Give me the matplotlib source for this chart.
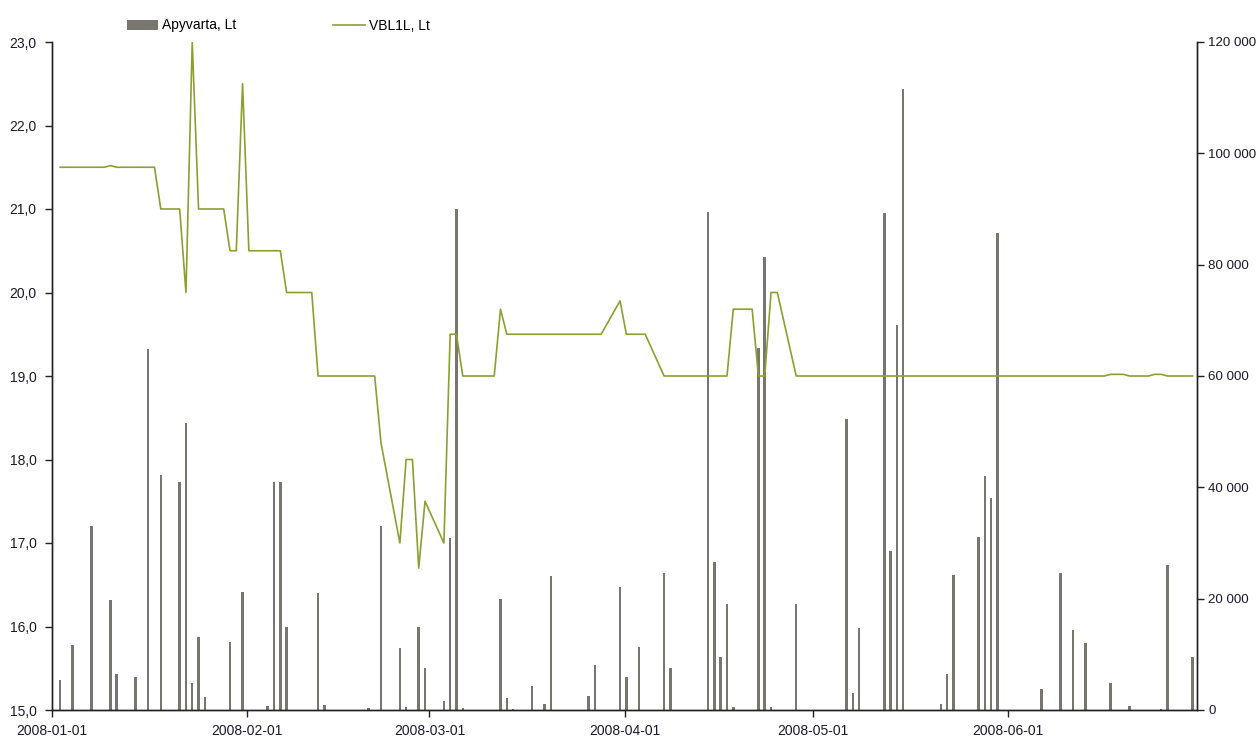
import matplotlib
matplotlib.use('Agg')
import matplotlib.pyplot as plt
import matplotlib.dates as mdates
from matplotlib.ticker import FuncFormatter, MultipleLocator
import pandas as pd

plt.rcParams['font.family'] = ['Liberation Sans', 'DejaVu Sans']
plt.rcParams['font.size'] = 10

# Apyvarta (turnover, Lt) per trading day
vol_dates = ['2008-01-02', '2008-01-04', '2008-01-07', '2008-01-10', '2008-01-11',
             '2008-01-14', '2008-01-16', '2008-01-18', '2008-01-21', '2008-01-22',
             '2008-01-23', '2008-01-24', '2008-01-25', '2008-01-29', '2008-01-31',
             '2008-02-04', '2008-02-05', '2008-02-06', '2008-02-07', '2008-02-12',
             '2008-02-13', '2008-02-20', '2008-02-22', '2008-02-25', '2008-02-26',
             '2008-02-28', '2008-02-29', '2008-03-03', '2008-03-04', '2008-03-05',
             '2008-03-06', '2008-03-12', '2008-03-13', '2008-03-14', '2008-03-17',
             '2008-03-19', '2008-03-20', '2008-03-26', '2008-03-27', '2008-03-31',
             '2008-04-01', '2008-04-03', '2008-04-07', '2008-04-08', '2008-04-14',
             '2008-04-15', '2008-04-16', '2008-04-17', '2008-04-18', '2008-04-22',
             '2008-04-23', '2008-04-24', '2008-04-28', '2008-05-06', '2008-05-07',
             '2008-05-08', '2008-05-12', '2008-05-13', '2008-05-14', '2008-05-15',
             '2008-05-21', '2008-05-22', '2008-05-23', '2008-05-27', '2008-05-28',
             '2008-05-29', '2008-05-30', '2008-06-06', '2008-06-09', '2008-06-11',
             '2008-06-13', '2008-06-17', '2008-06-20', '2008-06-25', '2008-06-26',
             '2008-06-30']
vol_values = [5400, 11700, 33100, 19800, 6500,
              5900, 64900, 42200, 41000, 51600,
              4900, 13100, 2300, 12200, 21200,
              700, 41000, 41000, 14900, 21000,
              900, 400, 33000, 11100, 500,
              14900, 7500, 1600, 30900, 90000,
              400, 19900, 2100, 200, 4400,
              1000, 24000, 2600, 8100, 22100,
              5900, 11400, 24700, 7500, 89400,
              26500, 9600, 19100, 500, 65000,
              81300, 500, 19100, 52300, 3000,
              14700, 89200, 28600, 69200, 111500,
              1000, 6500, 24200, 31000, 42100,
              38000, 85700, 3700, 24700, 14300,
              12100, 4900, 700, 200, 26100,
              9600]

# VBL1L closing price, Lt
px_dates = ['2008-01-02', '2008-01-09', '2008-01-10', '2008-01-11', '2008-01-17',
            '2008-01-18', '2008-01-21', '2008-01-22', '2008-01-23', '2008-01-24',
            '2008-01-28', '2008-01-29', '2008-01-30', '2008-01-31', '2008-02-01',
            '2008-02-06', '2008-02-07', '2008-02-11', '2008-02-12', '2008-02-21',
            '2008-02-22', '2008-02-25', '2008-02-26', '2008-02-27', '2008-02-28',
            '2008-02-29', '2008-03-03', '2008-03-04', '2008-03-05', '2008-03-06',
            '2008-03-11', '2008-03-12', '2008-03-13', '2008-03-28', '2008-03-31',
            '2008-04-01', '2008-04-04', '2008-04-07', '2008-04-17', '2008-04-18',
            '2008-04-21', '2008-04-22', '2008-04-23', '2008-04-24', '2008-04-25',
            '2008-04-28', '2008-06-16', '2008-06-17', '2008-06-19', '2008-06-20',
            '2008-06-23', '2008-06-24', '2008-06-25', '2008-06-26', '2008-06-30']
px_values = [21.5, 21.5, 21.52, 21.5, 21.5,
             21.0, 21.0, 20.0, 23.0, 21.0,
             21.0, 20.5, 20.5, 22.5, 20.5,
             20.5, 20.0, 20.0, 19.0, 19.0,
             18.2, 17.0, 18.0, 18.0, 16.7,
             17.5, 17.0, 19.5, 19.5, 19.0,
             19.0, 19.8, 19.5, 19.5, 19.9,
             19.5, 19.5, 19.0, 19.0, 19.8,
             19.8, 19.0, 19.0, 20.0, 20.0,
             19.0, 19.0, 19.02, 19.02, 19.0,
             19.0, 19.02, 19.02, 19.0, 19.0]

# points sit a bit into each day's slot, like the original spreadsheet chart
slot = pd.Timedelta(hours=7)
vol_x = pd.to_datetime(vol_dates) + slot
px_x = pd.to_datetime(px_dates) + slot

bar_color = '#77776f'
line_color = '#8ca030'

fig = plt.figure(figsize=(12.58, 7.38), dpi=100)
ax = fig.add_axes([52 / 1258, 1 - 710 / 738, (1197 - 52) / 1258, (710 - 42) / 738])
ax2 = ax.twinx()

bars = ax2.bar(vol_x, vol_values, width=0.4, color=bar_color, label='Apyvarta, Lt')
line, = ax.plot(px_x, px_values, color=line_color, lw=1.2, label='VBL1L, Lt')

ax.set_zorder(ax2.get_zorder() + 1)
ax.patch.set_visible(False)

ax.set_ylim(15, 23)
ax.yaxis.set_major_locator(MultipleLocator(1))
ax.yaxis.set_major_formatter(FuncFormatter(lambda v, p: f'{v:.1f}'.replace('.', ',')))
ax2.set_ylim(0, 120000)
ax2.yaxis.set_major_locator(MultipleLocator(20000))
ax2.yaxis.set_major_formatter(FuncFormatter(lambda v, p: f'{int(v):,}'.replace(',', ' ')))

ax.set_xlim(pd.Timestamp('2008-01-01'), pd.Timestamp('2008-07-01'))
ax.xaxis.set_major_locator(mdates.MonthLocator(bymonth=range(1, 7)))
ax.xaxis.set_major_formatter(mdates.DateFormatter('%Y-%m-%d'))

for a in (ax, ax2):
    a.spines['top'].set_visible(False)
    for s in ('left', 'right', 'bottom'):
        a.spines[s].set_color('#222222')
        a.spines[s].set_linewidth(1.0)
    a.tick_params(direction='out', length=5, width=1, colors='#222222',
                  labelcolor='#1a1a2e', labelsize=10)
ax.tick_params(axis='y', pad=6)
ax2.tick_params(axis='y', pad=3, labelsize=9.6)
ax.tick_params(axis='x', pad=5)

fig.legend(handles=[bars, line], labels=['Apyvarta, Lt', 'VBL1L, Lt'],
           loc='upper left', bbox_to_anchor=(114 / 1258, 1 - 6 / 738), ncol=2,
           frameon=False, columnspacing=7.0, handlelength=2.3, handletextpad=0.25,
           fontsize=10)

fig.savefig('out.png', dpi=100)
